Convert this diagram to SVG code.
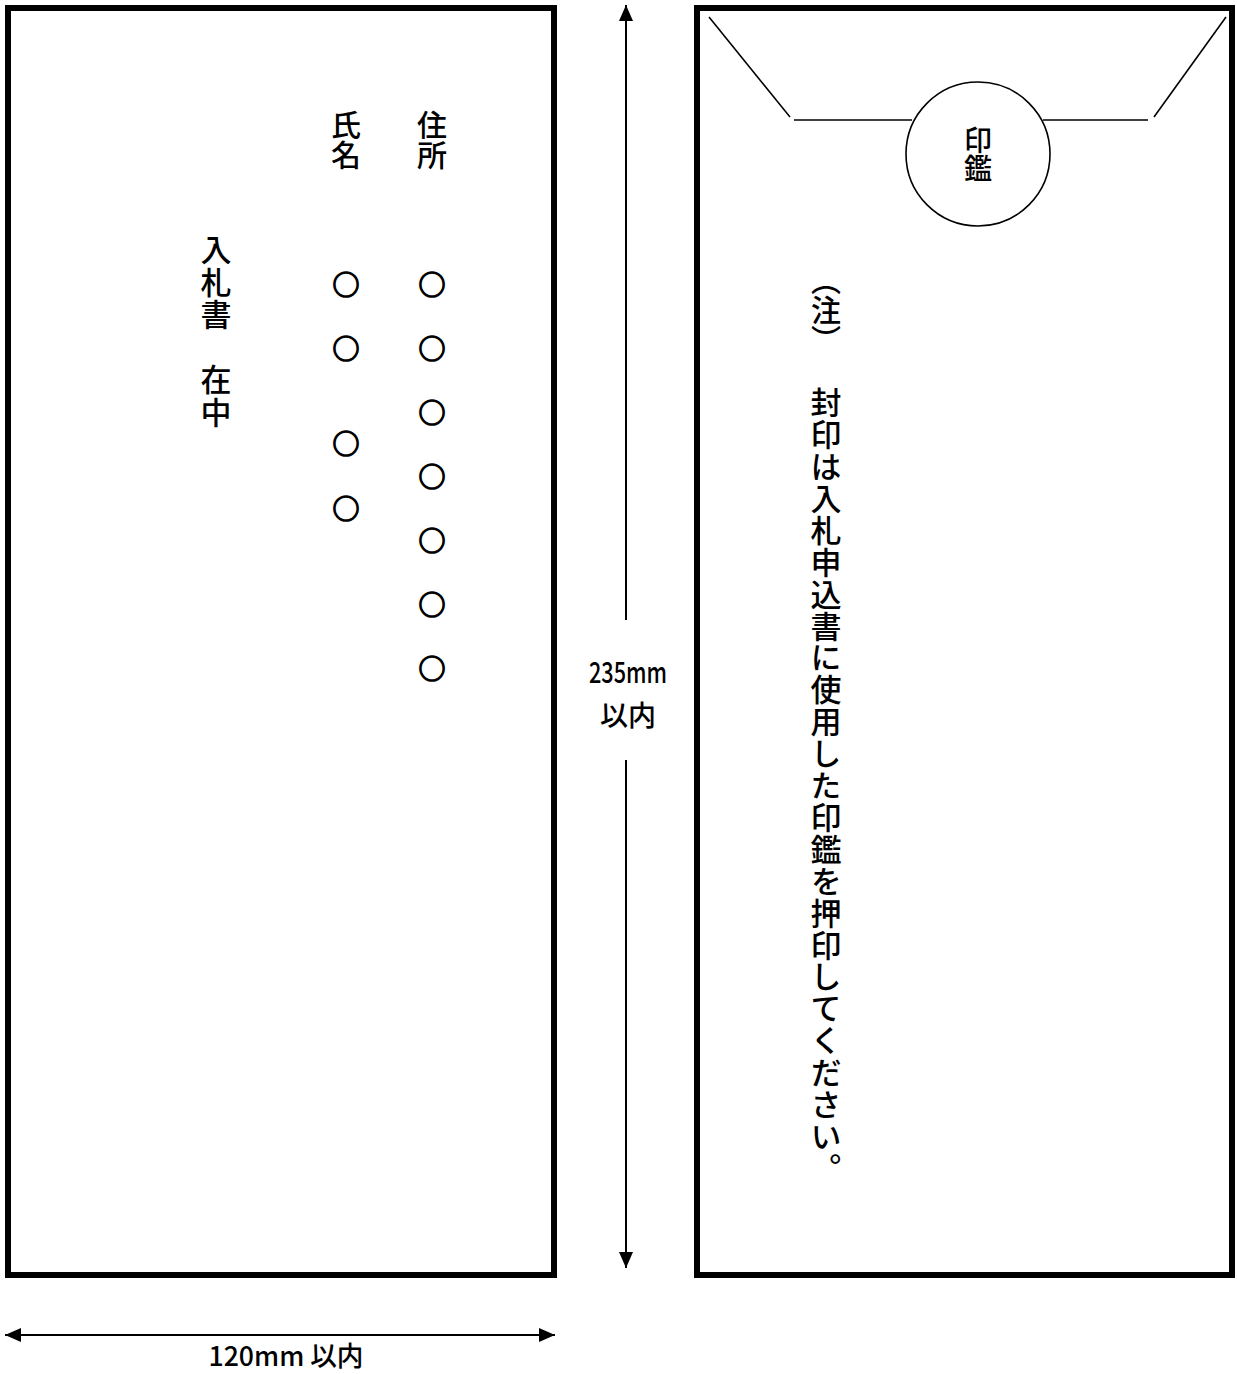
<svg xmlns="http://www.w3.org/2000/svg" width="1237" height="1374" viewBox="0 0 1237 1374">
<style>
.env{fill:#fff;stroke:#000;stroke-width:6}
.thin{fill:none;stroke:#000;stroke-width:1.6}
.dim{fill:none;stroke:#000;stroke-width:2}
.t{font-family:"Noto Sans CJK JP","Noto Sans CJK SC",sans-serif;fill:#000;font-weight:500}
.v{writing-mode:vertical-rl;font-size:30px}
.c{font-size:27px;text-anchor:middle;dominant-baseline:central;stroke:#000;stroke-width:1.4}
</style>
<defs>
<marker id="ah" viewBox="0 0 16 14" refX="16" refY="7" markerWidth="16" markerHeight="14" markerUnits="userSpaceOnUse" orient="auto-start-reverse">
<path d="M0,0 L16,7 L0,14 Z" fill="#000"/>
</marker>
</defs>
<rect width="1237" height="1374" fill="#fff"/>
<g id="front">
<rect class="env" x="8" y="8" width="546" height="1267"/>
<text class="t v" x="432" y="110">住所</text>
<text class="t v" x="346" y="110">氏名</text>
<text class="t v" x="216" y="234" style="font-size:31px;letter-spacing:1.5px">入札書　在中</text>
<g class="t c">
<text x="432" y="283">○</text><text x="432" y="347">○</text><text x="432" y="411">○</text><text x="432" y="475">○</text><text x="432" y="539">○</text><text x="432" y="603">○</text><text x="432" y="667">○</text>
<text x="346" y="283">○</text><text x="346" y="347">○</text><text x="346" y="442">○</text><text x="346" y="507">○</text>
</g>
</g>
<g id="back">
<rect class="env" x="697" y="8" width="535" height="1267"/>
<polyline class="thin" points="709,17 790,117"/>
<line class="thin" x1="794" y1="120" x2="912" y2="120"/>
<line class="thin" x1="1043" y1="120" x2="1148" y2="120"/>
<polyline class="thin" points="1154,117 1226,17"/>
</g>
<g id="seal">
<circle class="thin" cx="978" cy="154" r="72"/>
<text class="t v" x="978" y="126" style="font-size:28px">印鑑</text>
</g>
<g id="note">
<text class="t v" x="826" y="280" style="font-feature-settings:'vhal'">（注）</text>
<text class="t v" x="826" y="387" style="font-size:31px;letter-spacing:0.9px">封印は入札申込書に使用した印鑑を押印してください。</text>
</g>
<g id="connectors">
<line class="dim" x1="626" y1="5" x2="626" y2="620" marker-start="url(#ah)"/>
<line class="dim" x1="626" y1="760" x2="626" y2="1268" marker-end="url(#ah)"/>
<line class="dim" x1="5" y1="1335" x2="555" y2="1335" marker-start="url(#ah)" marker-end="url(#ah)"/>
</g>
<g id="labels">
<text class="t" x="628" y="683" text-anchor="middle" font-size="29" textLength="78" lengthAdjust="spacingAndGlyphs">235mm</text>
<text class="t" x="628" y="726" text-anchor="middle" font-size="28">以内</text>
<text class="t" x="286" y="1366" text-anchor="middle" font-size="27" textLength="155" lengthAdjust="spacingAndGlyphs">120mm 以内</text>
</g>
</svg>
